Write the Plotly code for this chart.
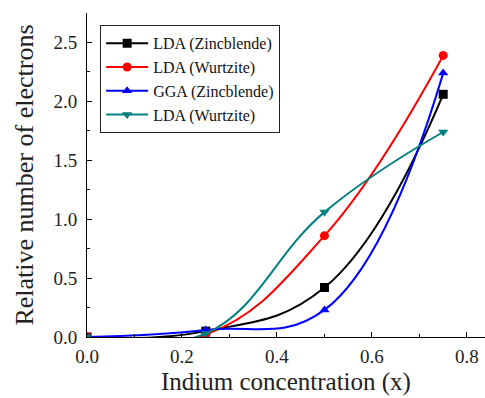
import plotly.graph_objects as go

x_conc = [0.0, 0.25, 0.5, 0.75]
lda_zb = [0.0, 0.05, 0.42, 2.06]
lda_wz = [0.0, 0.02, 0.86, 2.39]
gga_zb = [0.0, 0.06, 0.23, 2.24]
lda_wz2 = [0.0, 0.03, 1.06, 1.74]

names = ["LDA (Zincblende)", "LDA (Wurtzite)", "GGA (Zincblende)", "LDA (Wurtzite)"]
colors = ["#000000", "#FF0000", "#0000FF", "#008080"]
symbols = ["square", "circle", "triangle-up", "triangle-down"]
series = [lda_zb, lda_wz, gga_zb, lda_wz2]

FONT = "Liberation Serif, DejaVu Serif, serif"

fig = go.Figure()
for n, c, s, y in zip(names, colors, symbols, series):
    fig.add_trace(go.Scatter(
        x=x_conc, y=y, name=n, mode="lines+markers",
        line=dict(color=c, width=2, shape="spline", smoothing=1.2),
        marker=dict(symbol=s, size=9, color=c),
    ))

fig.update_layout(
    width=485, height=398,
    margin=dict(l=87, r=0, t=13, b=61, autoexpand=False),
    paper_bgcolor="white", plot_bgcolor="white",
    font=dict(family=FONT, size=19, color="#222"),
    showlegend=True,
    legend=dict(x=0.033, y=0.962, xanchor="left", yanchor="top",
                bgcolor="white", bordercolor="#222", borderwidth=1,
                font=dict(family=FONT, size=16, color="#111"),
                tracegroupgap=0, itemwidth=42),
    xaxis=dict(range=[0, 0.838], dtick=0.2, tick0=0, tickformat=".1f",
               ticks="inside", ticklen=5, tickcolor="#000", automargin=False,
               showline=True, linecolor="#000", linewidth=1,
               showgrid=False, zeroline=False, ticklabelstandoff=2,
               tickfont=dict(family=FONT, size=19, color="#222"),
               minor=dict(dtick=0.1, ticks="inside", ticklen=3, tickcolor="#000"),
               title=dict(text="Indium concentration (x)", font=dict(family=FONT, size=25, color="#222"), standoff=6)),
    yaxis=dict(range=[0, 2.75], dtick=0.5, tick0=0, tickformat=".1f",
               ticks="inside", ticklen=5, tickcolor="#000", automargin=False,
               showline=True, linecolor="#000", linewidth=1,
               showgrid=False, zeroline=False, ticklabelstandoff=5,
               tickfont=dict(family=FONT, size=19, color="#222"),
               minor=dict(dtick=0.25, ticks="inside", ticklen=3, tickcolor="#000"),
               title=dict(text="Relative number of electrons", font=dict(family=FONT, size=26, color="#222"), standoff=12)),
    xaxis2=dict(overlaying="x", side="top", anchor="y", range=[0, 4.91], dtick=1, tick0=0,
                showticklabels=False, ticks="inside", ticklen=5, tickcolor="#000", automargin=False,
                showline=True, linecolor="#000", linewidth=1, showgrid=False, zeroline=False,
                minor=dict(dtick=0.5, ticks="inside", ticklen=3, tickcolor="#000")),
)

fig.write_html("out.html", config={"displayModeBar": False},
               post_script="document.body.style.margin='0';document.body.style.overflow='hidden';")
